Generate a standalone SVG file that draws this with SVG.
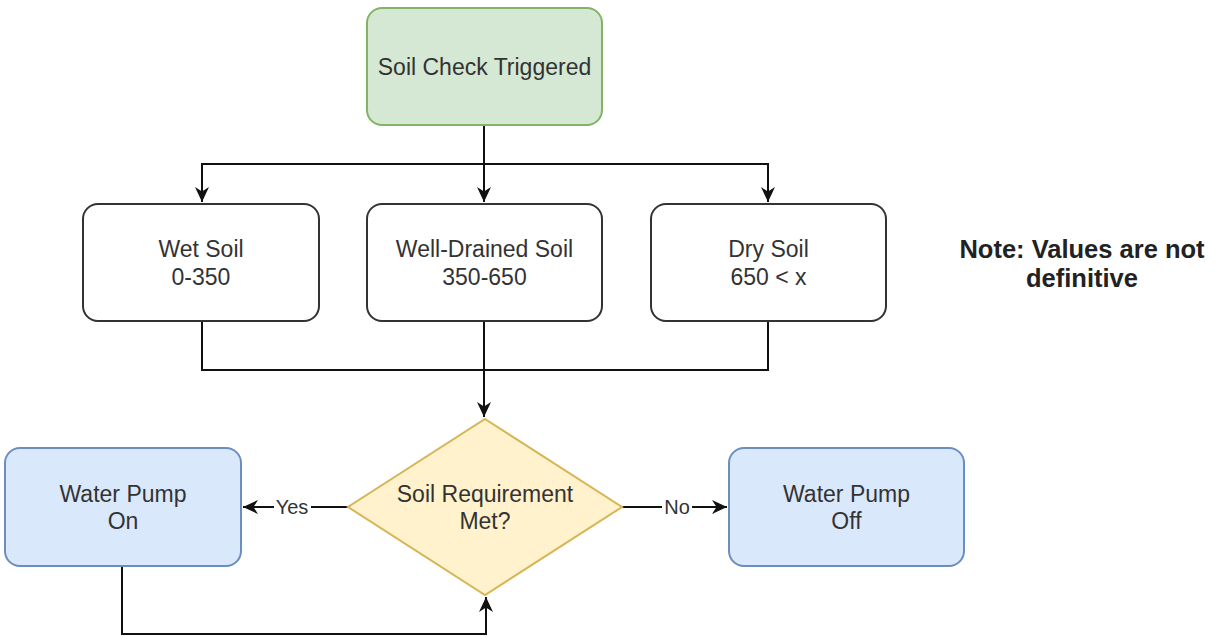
<svg xmlns="http://www.w3.org/2000/svg" width="1215" height="637" viewBox="0 0 1215 637">
<style>
.t{font-family:"Liberation Sans",Arial,sans-serif;font-size:23px;fill:#333;text-anchor:middle}
.b{font-family:"Liberation Sans",Arial,sans-serif;font-size:25.5px;font-weight:bold;fill:#222;text-anchor:middle}
.l{font-family:"Liberation Sans",Arial,sans-serif;font-size:20px;fill:#333;text-anchor:middle}
.plain{fill:#fff;stroke:#333;stroke-width:2}
.green{fill:#d5e8d4;stroke:#82b366;stroke-width:2}
.blue{fill:#dae8fc;stroke:#6c8ebf;stroke-width:2}
.yellow{fill:#fff2cc;stroke:#d6b656;stroke-width:2}
.c{fill:none;stroke:#111;stroke-width:2}
</style>
<defs>
<marker id="arr" markerWidth="16" markerHeight="16" refX="15" refY="8" orient="auto" markerUnits="userSpaceOnUse">
<path d="M0,1 L15,8 L0,15 L4.5,8 Z" fill="#111"/>
</marker>
</defs>
<rect width="1215" height="637" fill="#fff"/>
<g id="connectors">
<polyline class="c" points="484,125 484,202" marker-end="url(#arr)"/>
<polyline class="c" points="484,164 202,164 202,202" marker-end="url(#arr)"/>
<polyline class="c" points="484,164 768,164 768,202" marker-end="url(#arr)"/>
<polyline class="c" points="202,321 202,370 768,370 768,321"/>
<polyline class="c" points="484,321 484,417" marker-end="url(#arr)"/>
<polyline class="c" points="348,507 243,507" marker-end="url(#arr)"/>
<polyline class="c" points="622,507 727,507" marker-end="url(#arr)"/>
<polyline class="c" points="122,566 122,634 486,634 486,597" marker-end="url(#arr)"/>
<rect x="274" y="494" width="37" height="26" fill="#fff"/>
<text class="l" x="292" y="514">Yes</text>
<rect x="662" y="494" width="30" height="26" fill="#fff"/>
<text class="l" x="677" y="514">No</text>
</g>
<g id="start">
<rect class="green" x="367" y="8" width="235" height="117" rx="15"/>
<text class="t" x="484.5" y="75">Soil Check Triggered</text>
</g>
<g id="wet">
<rect class="plain" x="83" y="204" width="236" height="117" rx="15"/>
<text class="t" x="201" y="257">Wet Soil</text>
<text class="t" x="201" y="285">0-350</text>
</g>
<g id="drained">
<rect class="plain" x="367" y="204" width="235" height="117" rx="15"/>
<text class="t" x="484.5" y="257">Well-Drained Soil</text>
<text class="t" x="484.5" y="285">350-650</text>
</g>
<g id="dry">
<rect class="plain" x="651" y="204" width="235" height="117" rx="15"/>
<text class="t" x="768.5" y="257">Dry Soil</text>
<text class="t" x="768.5" y="285">650 &lt; x</text>
</g>
<g id="note">
<text class="b" x="1082" y="258">Note: Values are not</text>
<text class="b" x="1082" y="287">definitive</text>
</g>
<g id="decision">
<polygon class="yellow" points="485,419 622,507 485,595 348,507"/>
<text class="t" x="485" y="502">Soil Requirement</text>
<text class="t" x="485" y="529">Met?</text>
</g>
<g id="pump-on">
<rect class="blue" x="5" y="448" width="236" height="118" rx="15"/>
<text class="t" x="123" y="502">Water Pump</text>
<text class="t" x="123" y="529">On</text>
</g>
<g id="pump-off">
<rect class="blue" x="729" y="448" width="235" height="118" rx="15"/>
<text class="t" x="846.5" y="502">Water Pump</text>
<text class="t" x="846.5" y="529">Off</text>
</g>
</svg>
